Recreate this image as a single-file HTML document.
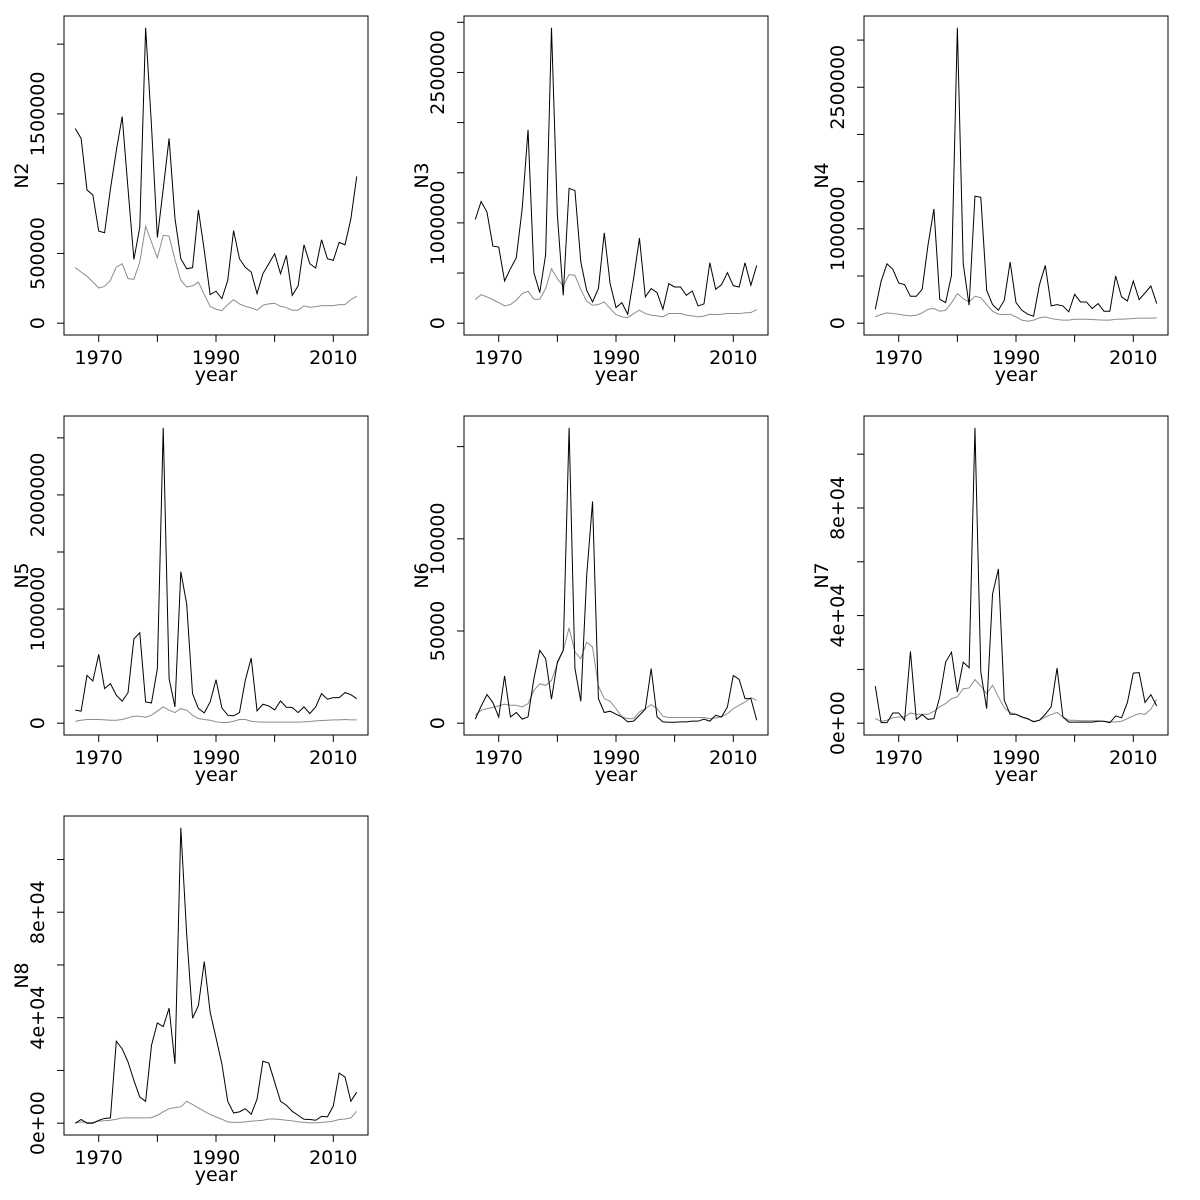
<!DOCTYPE html>
<html>
<head>
<meta charset="utf-8">
<style>
  html, body { margin: 0; padding: 0; background: #fff; }
  svg { display: block; }
  text { font-family: "DejaVu Sans", "Liberation Sans", sans-serif; font-size: 19px; fill: #000; }
</style>
</head>
<body>
<svg id="chart" width="1200" height="1200" viewBox="0 0 1200 1200" xmlns="http://www.w3.org/2000/svg"></svg>
<script>
// ---- data (values in thousands) ----
const years = [1966,1967,1968,1969,1970,1971,1972,1973,1974,1975,1976,1977,1978,1979,1980,1981,1982,1983,1984,1985,1986,1987,1988,1989,1990,1991,1992,1993,1994,1995,1996,1997,1998,1999,2000,2001,2002,2003,2004,2005,2006,2007,2008,2009,2010,2011,2012,2013,2014];
const xTicks = [1970,1980,1990,2000,2010];
const xTickLabels = ["1970","","1990","","2010"];

const n2Black = [1395,1324,955,919,660,648,962,1236,1481,962,457,686,2117,1414,614,962,1324,752,462,390,398,812,521,205,229,176,307,664,462,400,367,212,355,426,498,355,486,200,267,562,426,395,598,462,450,579,562,748,1052];
const n2Gray = [398,367,336,295,252,264,307,402,426,319,314,438,695,581,469,629,624,455,307,260,267,295,205,121,100,90,133,169,138,121,110,93,129,138,143,121,112,93,93,124,114,119,126,126,126,133,133,169,193];
const n2Ticks = [0,500000,1000000,1500000,2000000];
const n2TickLabels = ["0","500000","","1500000",""];

const n3Black = [1034,1213,1107,769,759,421,543,653,1140,1928,504,305,682,2945,1080,278,1345,1322,610,328,212,345,901,394,156,205,89,444,848,262,345,305,139,394,361,361,278,321,172,192,603,338,384,504,374,361,603,378,576];
const n3Gray = [235,285,262,235,205,172,186,229,295,318,239,239,345,543,444,371,484,477,335,219,179,186,212,146,86,63,56,96,129,96,80,73,63,96,96,96,80,73,63,70,89,86,89,96,96,96,103,106,136];
const n3Ticks = [0,500000,1000000,1500000,2000000,2500000,3000000];
const n3TickLabels = ["0","","1000000","","","2500000",""];

const n4Black = [148,444,630,570,426,408,285,285,359,831,1211,253,218,507,3130,630,190,1345,1334,348,197,137,243,648,218,137,95,74,408,612,183,197,183,120,306,225,225,155,208,127,127,500,278,236,447,250,320,394,208];
const n4Gray = [67,92,109,102,95,84,77,84,109,148,155,127,137,215,313,260,225,285,271,197,127,95,92,95,67,32,21,32,56,67,49,39,32,32,42,42,42,39,35,32,32,42,42,46,49,53,53,53,56];
const n4Ticks = [0,500000,1000000,1500000,2000000,2500000,3000000];
const n4TickLabels = ["0","","1000000","","","2500000",""];

const n5Black = [114,105,419,370,603,303,346,245,192,268,739,792,186,178,477,2588,390,143,1327,1045,259,128,90,186,381,134,70,64,93,376,571,108,166,151,116,195,140,137,93,143,84,143,259,210,224,224,268,250,215];
const n5Gray = [17,26,32,32,32,29,26,26,32,47,61,61,52,70,105,143,114,93,128,114,70,41,32,26,12,6,6,17,32,32,17,12,9,9,9,9,9,9,9,12,15,20,23,26,29,29,32,29,29];
const n5Ticks = [0,500000,1000000,1500000,2000000,2500000];
const n5TickLabels = ["0","","1000000","","2000000",""];

const n6Black = [2.2,9.2,15.5,11.2,3.4,25.6,3.4,5.8,2.2,3.4,24.1,39.5,35.0,13.0,33.2,39.5,160.2,29.6,11.9,80.0,120.2,13.3,5.8,6.5,4.9,3.4,0.7,1.1,4.3,7.6,29.6,3.4,0.7,0.5,0.5,0.7,0.7,1.1,1.1,2.2,1.1,4.3,3.4,8.8,25.9,23.8,13.3,13.3,1.6];
const n6Gray = [4.3,7.0,7.9,8.5,9.4,10.3,9.7,9.7,8.8,10.6,17.8,21.4,20.5,23.2,32.3,39.5,51.7,38.6,35.0,44.0,41.3,20.2,13.3,11.9,7.9,3.4,2.5,2.5,6.1,7.9,10.1,7.9,3.8,3.1,3.1,3.1,3.1,3.1,3.1,3.1,2.5,2.9,3.4,5.2,7.9,9.7,11.5,13.9,12.4];
const n6Ticks = [0,50000,100000,150000];
const n6TickLabels = ["0","50000","100000",""];

const n7Black = [13.8,0.2,0.2,3.8,3.8,1.1,26.7,1.4,3.2,1.4,1.7,9.8,22.7,26.4,11.6,22.7,20.6,109.8,19.0,5.4,48.0,57.3,8.5,3.3,3.3,2.3,1.7,0.5,1.1,3.3,6.1,20.5,2.3,0.4,0.4,0.4,0.4,0.4,0.7,0.7,0.2,2.7,2.0,7.7,18.6,18.8,7.7,10.6,6.4];
const n7Gray = [1.7,0.7,1.1,2.0,2.3,2.3,3.8,3.3,3.3,3.3,4.4,6.1,7.3,9.1,9.8,12.8,13.1,16.2,13.8,11.0,14.1,9.8,5.7,4.0,3.3,2.3,1.5,0.7,1.1,2.3,3.2,4.0,2.3,1.1,1.1,0.9,0.9,0.9,0.9,0.7,0.5,0.5,0.7,1.7,2.7,3.6,3.3,5.2,8.9];
const n7Ticks = [0,20000,40000,60000,80000,100000];
const n7TickLabels = ["0e+00","","4e+04","","8e+04",""];

const n8Black = [0,1.4,0,0,1.1,1.8,2.0,31.1,28.2,23.2,16.2,9.9,8.3,29.5,38.0,36.6,43.6,22.5,112.0,71.6,39.8,44.6,61.3,42.1,32.4,22.5,8.3,3.9,4.3,5.5,3.4,9.1,23.5,22.8,15.6,8.3,6.8,4.5,3.0,1.5,1.4,1.1,2.6,2.4,6.5,19.0,17.5,8.3,11.8];
const n8Gray = [0,0.5,0.3,0.3,0.8,0.9,1.1,1.5,2.0,2.0,2.0,2.0,2.0,2.1,3.0,4.3,5.5,5.9,6.2,8.3,7.1,5.8,4.5,3.3,2.4,1.5,0.5,0.3,0.3,0.5,0.8,0.9,1.1,1.6,1.6,1.4,1.1,0.9,0.5,0.3,0.1,0.1,0.3,0.5,0.8,1.4,1.6,2.0,4.5];
const n8Ticks = [0,20000,40000,60000,80000,100000];
const n8TickLabels = ["0e+00","","4e+04","","8e+04",""];

const panelNames = ["N2","N3","N4","N5","N6","N7","N8"];
const panelBlack = [n2Black,n3Black,n4Black,n5Black,n6Black,n7Black,n8Black];
const panelGray = [n2Gray,n3Gray,n4Gray,n5Gray,n6Gray,n7Gray,n8Gray];
const panelTicks = [n2Ticks,n3Ticks,n4Ticks,n5Ticks,n6Ticks,n7Ticks,n8Ticks];
const panelTickLabels = [n2TickLabels,n3TickLabels,n4TickLabels,n5TickLabels,n6TickLabels,n7TickLabels,n8TickLabels];

// ---- drawing ----
const NS = "http://www.w3.org/2000/svg";
const svg = document.getElementById("chart");
const W = 304, H = 319;
function mk(tag, attrs, parent) {
  const e = document.createElementNS(NS, tag);
  for (const k in attrs) e.setAttribute(k, attrs[k]);
  parent.appendChild(e);
  return e;
}
const xMin = years[0], xMax = years[years.length - 1];
const xPad = (xMax - xMin) * 0.04;

for (let p = 0; p < panelNames.length; p++) {
  const col = p % 3, row = Math.floor(p / 3);
  const L = 64 + col * 400, T = 16 + row * 400, B = T + H;
  const black = panelBlack[p], gray = panelGray[p];
  const ymax = Math.max(Math.max(...black), Math.max(...gray)) * 1000;
  const yPad = ymax * 0.04;
  const xs = v => L + (v - (xMin - xPad)) / ((xMax - xMin) + 2 * xPad) * W;
  const ys = v => B - (v + yPad) / (ymax + 2 * yPad) * H;

  const g = mk("g", {}, svg);
  
  

  const frame = mk("rect", {x: L, y: T, width: W, height: H, fill: "none", stroke: "#000", "stroke-width": 1}, g);
  
  

  // x axis
  const xa = mk("g", {}, g);
  
  
  mk("line", {x1: xs(xTicks[0]), x2: xs(xTicks[xTicks.length-1]), y1: B, y2: B, stroke: "#000"}, xa);
  xTicks.forEach((t, i) => {
    mk("line", {x1: xs(t), x2: xs(t), y1: B, y2: B + 7, stroke: "#000"}, xa);
    if (xTickLabels[i]) {
      const tx = mk("text", {x: xs(t), y: B + 23, "text-anchor": "middle", "dominant-baseline": "central"}, xa);
      tx.textContent = xTickLabels[i];
      
      
    }
  });
  const xt = mk("text", {x: L + W / 2, y: B + 40, "text-anchor": "middle", "dominant-baseline": "central"}, g);
  xt.textContent = "year";
  
  

  // y axis
  const ya = mk("g", {}, g);
  
  
  const tk = panelTicks[p], tl = panelTickLabels[p];
  mk("line", {x1: L, x2: L, y1: ys(tk[0]), y2: ys(tk[tk.length-1]), stroke: "#000"}, ya);
  tk.forEach((t, i) => {
    const yy = ys(t);
    mk("line", {x1: L - 7, x2: L, y1: yy, y2: yy, stroke: "#000"}, ya);
    if (tl[i]) {
      const tx = mk("text", {x: L - 26, y: yy, "text-anchor": "middle", "dominant-baseline": "central", transform: `rotate(-90 ${L - 26} ${yy})`}, ya);
      tx.textContent = tl[i];
      
      
    }
  });
  const yt = mk("text", {x: L - 42, y: T + H / 2, "text-anchor": "middle", "dominant-baseline": "central", transform: `rotate(-90 ${L - 42} ${T + H / 2})`}, g);
  yt.textContent = panelNames[p];
  
  

  // series (stored in thousands)
  const ptsG = gray.map((v, i) => xs(years[i]).toFixed(2) + "," + ys(v * 1000).toFixed(2)).join(" ");
  const lg = mk("polyline", {points: ptsG, fill: "none", stroke: "#8c8c8c", "stroke-width": 1}, g);
  
  
  const ptsB = black.map((v, i) => xs(years[i]).toFixed(2) + "," + ys(v * 1000).toFixed(2)).join(" ");
  const lb = mk("polyline", {points: ptsB, fill: "none", stroke: "#000", "stroke-width": 1}, g);
  
  
}
</script>
</body>
</html>
